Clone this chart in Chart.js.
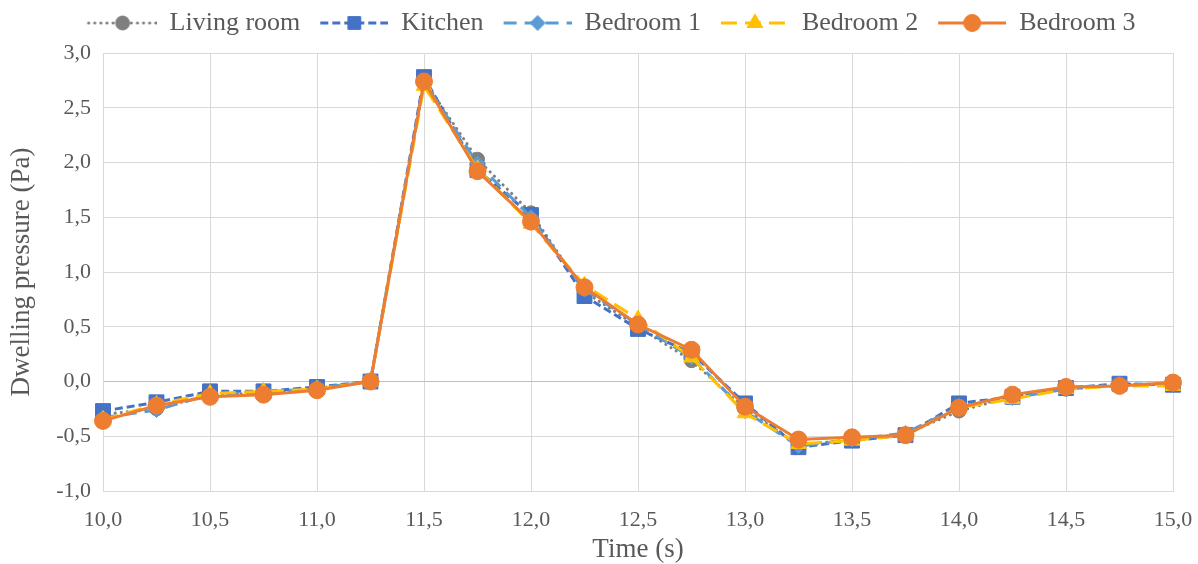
<!DOCTYPE html>
<html>
<head>
<meta charset="utf-8">
<script src="https://cdn.jsdelivr.net/npm/chart.js@4.4.1/dist/chart.umd.min.js"></script>
<style>
  html, body { margin: 0; padding: 0; background: #ffffff; }
  #chartPressao { display: block; }
</style>
</head>
<body>
<canvas id="chartPressao" width="1198" height="564"></canvas>
<script>
// Dados (tempo em s, pressão em Pa)
const tempos = [10.0, 10.25, 10.5, 10.75, 11.0, 11.25, 11.5, 11.75, 12.0, 12.25, 12.5,
  12.75, 13.0, 13.25, 13.5, 13.75, 14.0, 14.25, 14.5, 14.75, 15.0];
const salaEstar = [-0.30, -0.25, -0.12, -0.11, -0.06, 0.00, 2.75, 2.03, 1.54, 0.82, 0.50,
  0.19, -0.25, -0.58, -0.53, -0.48, -0.27, -0.14, -0.07, -0.03, -0.02];
const cozinha = [-0.27, -0.19, -0.09, -0.09, -0.05, 0.00, 2.78, 1.93, 1.52, 0.78, 0.48,
  0.26, -0.20, -0.60, -0.54, -0.49, -0.20, -0.14, -0.06, -0.02, -0.03];
const quarto1 = [-0.33, -0.26, -0.12, -0.10, -0.06, 0.00, 2.74, 1.99, 1.50, 0.84, 0.52,
  0.22, -0.27, -0.59, -0.53, -0.47, -0.23, -0.15, -0.07, -0.03, -0.02];
const quarto2 = [-0.35, -0.21, -0.11, -0.09, -0.07, 0.00, 2.70, 1.94, 1.44, 0.88, 0.57,
  0.22, -0.29, -0.57, -0.54, -0.49, -0.24, -0.16, -0.07, -0.04, -0.04];
const quarto3 = [-0.36, -0.22, -0.14, -0.12, -0.08, 0.00, 2.74, 1.92, 1.46, 0.86, 0.52,
  0.29, -0.23, -0.53, -0.51, -0.49, -0.24, -0.12, -0.05, -0.04, -0.01];

const FONTE = "'Liberation Serif', 'Times New Roman', serif";
const COR_TEXTO = '#595959';
const COR_GRADE = '#d9d9d9';

const series = [
  { label: 'Living room', data: salaEstar, cor: '#7f7f7f', dash: [0.1, 6], cap: 'round', estilo: 'circle', raio: 7 },
  { label: 'Kitchen', data: cozinha, cor: '#4472c4', dash: [8, 4], cap: 'butt', estilo: 'rect', raio: 10.5 },
  { label: 'Bedroom 1', data: quarto1, cor: '#5b9bd5', dash: [13, 8], cap: 'butt', estilo: 'rectRot', raio: 7.5 },
  { label: 'Bedroom 2', data: quarto2, cor: '#ffc000', dash: [16, 8], cap: 'butt', estilo: 'triangle', raio: 9 },
  { label: 'Bedroom 3', data: quarto3, cor: '#ed7d31', dash: [], cap: 'butt', estilo: 'circle', raio: 8.5 },
];

function iconeLegenda(s) {
  const c = document.createElement('canvas');
  c.width = 80;
  c.height = 24;
  const g = c.getContext('2d');
  g.strokeStyle = s.cor;
  g.fillStyle = s.cor;
  g.lineWidth = 3;
  g.lineCap = s.cap;
  g.setLineDash(s.dash);
  g.beginPath();
  g.moveTo(12, 12);
  g.lineTo(80, 12);
  g.stroke();
  g.setLineDash([]);
  g.lineWidth = 1;
  Chart.helpers.drawPoint(g, { pointStyle: s.estilo, radius: Math.min(s.raio, 9), rotation: 0, borderWidth: 1 }, 46, 12);
  return c;
}
const icones = series.map(iconeLegenda);

const formatar = v => Number(v).toFixed(1).replace('.', ',');

// ajusta a posição e a altura da legenda para bater com o original
const ajustarLegenda = {
  id: 'ajustarLegenda',
  beforeLayout(chart) {
    const leg = chart.legend;
    if (leg && !leg._ajustada) {
      const fitOriginal = leg.fit.bind(leg);
      leg.fit = function () {
        fitOriginal();
        this.height += 7;
      };
      leg._ajustada = true;
    }
  },
  afterLayout(chart) {
    chart.legend.left += 7;
    chart.legend.right += 7;
  }
};

new Chart(document.getElementById('chartPressao'), {
  type: 'line',
  data: {
    datasets: series.map((s, i) => ({
      label: s.label,
      data: tempos.map((t, k) => ({ x: t, y: s.data[k] })),
      borderColor: s.cor,
      backgroundColor: s.cor,
      borderWidth: 3,
      borderDash: s.dash,
      borderCapStyle: s.cap,
      pointStyle: s.estilo,
      pointRadius: s.raio,
      pointHoverRadius: s.raio,
      pointBackgroundColor: s.cor,
      pointBorderColor: s.cor,
      pointBorderWidth: 1,
      tension: 0,
      fill: false,
      clip: false,
      order: series.length - i,
    }))
  },
  options: {
    responsive: false,
    animation: false,
    devicePixelRatio: 1,
    layout: { padding: { left: 0, right: 0, top: 2, bottom: 0 } },
    plugins: {
      tooltip: { enabled: false },
      legend: {
        position: 'top',
        labels: {
          color: COR_TEXTO,
          font: { family: FONTE, size: 26 },
          padding: 8,
          usePointStyle: true,
          pointStyleWidth: 80,
          sort: (a, b) => a.datasetIndex - b.datasetIndex,
          generateLabels: chart => Chart.defaults.plugins.legend.labels.generateLabels(chart)
            .map(l => ({ ...l, pointStyle: icones[l.datasetIndex] }))
        }
      }
    },
    scales: {
      x: {
        type: 'linear',
        min: 10,
        max: 15,
        afterFit: s => {
          s.height = 73;
          s.paddingLeft = 0;
          s.paddingRight = 25;
        },
        ticks: {
          stepSize: 0.5,
          autoSkip: false,
          maxRotation: 0,
          padding: 16,
          color: COR_TEXTO,
          font: { family: FONTE, size: 22 },
          callback: formatar
        },
        grid: { color: COR_GRADE, lineWidth: 1, drawTicks: false },
        border: { color: COR_GRADE, width: 1 },
        title: {
          display: true,
          text: 'Time (s)',
          color: COR_TEXTO,
          font: { family: FONTE, size: 27 },
          padding: { top: 0, bottom: -2 }
        }
      },
      y: {
        min: -1,
        max: 3,
        afterFit: s => { s.width = 103; },
        ticks: {
          stepSize: 0.5,
          padding: 12,
          color: COR_TEXTO,
          font: { family: FONTE, size: 22 },
          callback: formatar
        },
        grid: {
          color: ctx => (ctx.tick && ctx.tick.value === 0 ? '#bfbfbf' : COR_GRADE),
          lineWidth: 1,
          drawTicks: false
        },
        border: { color: COR_GRADE, width: 1 },
        title: {
          display: true,
          text: 'Dwelling pressure (Pa)',
          color: COR_TEXTO,
          font: { family: FONTE, size: 27 },
          padding: { top: 6, bottom: 0 }
        }
      }
    }
  },
  plugins: [ajustarLegenda]
});
</script>
</body>
</html>
